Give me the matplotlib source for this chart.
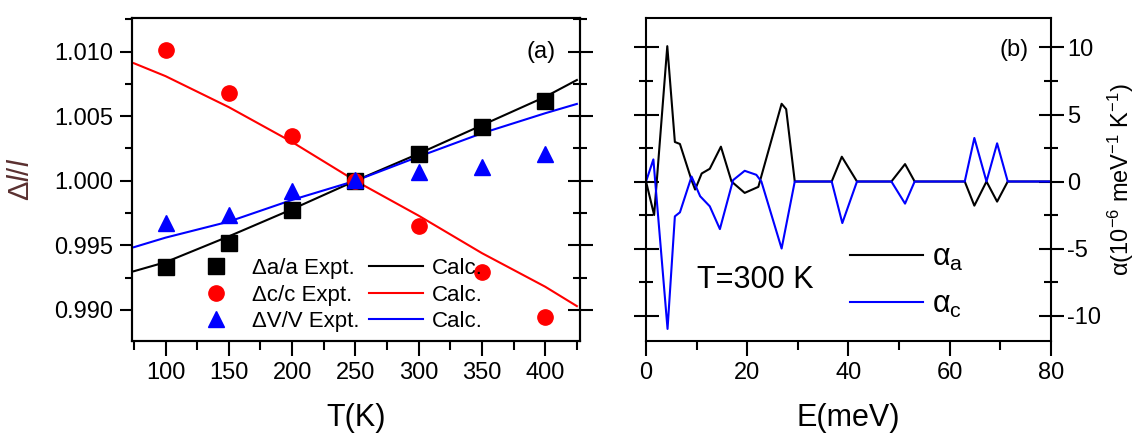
import numpy as np
import matplotlib
matplotlib.use('Agg')
import matplotlib.pyplot as plt
from matplotlib.ticker import MultipleLocator

plt.rcParams['font.family'] = ['Liberation Sans', 'DejaVu Sans']
plt.rcParams['mathtext.fontset'] = 'custom'
plt.rcParams['mathtext.rm'] = 'Liberation Sans'
plt.rcParams['mathtext.it'] = 'Liberation Sans:italic'

# (a) lattice parameter ratios vs temperature
T_expt = [100, 150, 200, 250, 300, 350, 400]
a_expt = [0.99335, 0.99521, 0.99774, 1.0000, 1.00208, 1.0042, 1.0062]
c_expt = [1.0101, 1.00683, 1.0035, 1.0000, 0.9965, 0.99297, 0.98948]
V_expt = [0.99676, 0.99736, 0.99924, 1.0001, 1.00066, 1.0011, 1.00208]

T_calc = [75, 100, 150, 200, 250, 300, 350, 400, 425]
a_calc = [0.9930, 0.9937, 0.9957, 0.9978, 1.0000, 1.0021, 1.0043, 1.0065, 1.0078]
c_calc = [1.0091, 1.0081, 1.0057, 1.0030, 1.0000, 0.9973, 0.9944, 0.9918, 0.9903]
V_calc = [0.99486, 0.9956, 0.99684, 0.99852, 1.0000, 1.00187, 1.00368, 1.00523, 1.00595]

# (b) mode contributions to thermal expansion at 300 K
E_a = [0, 1.6, 4.2, 5.7, 6.7, 9.0, 9.7, 11.0, 12.6, 14.8, 16.9, 19.5, 22.2, 26.8, 27.7,
       29.4, 36.7, 38.7, 41.7, 48.5, 51.2, 53.1, 63.0, 64.9, 67.3, 69.4, 71.5, 80]
alpha_a = [0, -2.5, 10.1, 2.95, 2.8, 0.1, -0.6, 0.6, 0.95, 2.6, 0.0, -0.85, -0.4, 5.8, 5.4,
           0, 0, 1.85, 0, 0, 1.3, 0, 0, -1.8, 0, -1.5, 0, 0]
E_c = [0, 1.45, 4.25, 5.7, 6.7, 9.0, 10.7, 12.6, 14.6, 17.2, 19.5, 21.8, 22.8, 26.8,
       29.4, 36.7, 38.8, 41.7, 48.5, 51.2, 53.1, 63.0, 64.9, 67.3, 69.4, 71.5, 80]
alpha_c = [0, 1.65, -11.0, -2.6, -2.3, 0.37, -1.1, -1.85, -3.55, 0.1, 0.8, 0.5, 0, -5.0,
           0, 0, -3.1, 0, 0, -1.65, 0, 0, 3.25, 0, 2.85, 0, 0]

fig = plt.figure(figsize=(11.4, 4.34), dpi=100)
ax1 = fig.add_axes([0.1158, 0.2143, 0.393, 0.7442])
ax2 = fig.add_axes([0.5667, 0.2143, 0.355, 0.7442])

ms = 11
ax1.plot(T_calc, a_calc, '-', color='k', lw=1.5)
ax1.plot(T_calc, c_calc, '-', color='#ff0000', lw=1.5)
ax1.plot(T_calc, V_calc, '-', color='#0000ff', lw=1.5)
h_a, = ax1.plot(T_expt, a_expt, 's', color='k', ms=ms, ls='none')
h_c, = ax1.plot(T_expt, c_expt, 'o', color='#ff0000', ms=ms, ls='none')
h_V, = ax1.plot(T_expt, V_expt, '^', color='#0000ff', ms=ms + 1, ls='none')
l_a, = ax1.plot([], [], '-', color='k', lw=1.5)
l_c, = ax1.plot([], [], '-', color='#ff0000', lw=1.5)
l_V, = ax1.plot([], [], '-', color='#0000ff', lw=1.5)

ax1.set_xlim(73.5, 427.5)
ax1.set_ylim(0.9876, 1.0126)
ax1.xaxis.set_major_locator(MultipleLocator(50))
ax1.xaxis.set_minor_locator(MultipleLocator(25))
ax1.yaxis.set_major_locator(MultipleLocator(0.005))
ax1.yaxis.set_minor_locator(MultipleLocator(0.0025))
ax1.yaxis.set_major_formatter(matplotlib.ticker.FormatStrFormatter('%.3f'))
ax1.tick_params(axis='x', which='major', direction='out', length=11, width=1.5, pad=4, labelsize=17)
ax1.tick_params(axis='x', which='minor', direction='out', length=6.5, width=1.5)
ax1.tick_params(axis='y', which='major', direction='out', length=8.5, width=1.5, pad=5, labelsize=17)
ax1.tick_params(axis='y', which='minor', direction='out', length=5, width=1.5)
ax1.set_xlabel('T(K)', fontsize=22, labelpad=14)
ax1.set_ylabel('Δ$\\it{l}$/$\\it{l}$', fontsize=21, color='#5a3030', labelpad=14)
ax1.text(0.945, 0.894, '(a)', transform=ax1.transAxes, ha='right', va='center', fontsize=17)

# right-hand ticks of panel (a), no labels
ax1r = ax1.twinx()
ax1r.set_ylim(ax1.get_ylim())
ax1r.yaxis.set_major_locator(MultipleLocator(0.005))
ax1r.yaxis.set_minor_locator(MultipleLocator(0.0025))
ax1r.tick_params(axis='y', which='major', direction='inout', length=18, width=1.5, labelright=False)
ax1r.tick_params(axis='y', which='minor', direction='inout', length=10, width=1.5)

ax1.legend([h_a, h_c, h_V, l_a, l_c, l_V],
           ['Δa/a Expt.', 'Δc/c Expt.', 'ΔV/V Expt.', 'Calc.', 'Calc.', 'Calc.'],
           ncol=2, loc='center', bbox_to_anchor=(0.455, 0.142), frameon=False,
           fontsize=16, handlelength=2.4, handletextpad=0.4, columnspacing=0.45,
           labelspacing=0.25, borderpad=0, numpoints=1)

ax2.plot(E_a, alpha_a, '-', color='k', lw=1.5, label='α$_\\mathregular{a}$')
ax2.plot(E_c, alpha_c, '-', color='#0000ff', lw=1.5, label='α$_\\mathregular{c}$')
ax2.set_xlim(0, 80)
ax2.set_ylim(-11.9, 12.2)
ax2.xaxis.set_major_locator(MultipleLocator(20))
ax2.xaxis.set_minor_locator(MultipleLocator(10))
ax2.yaxis.set_major_locator(MultipleLocator(5))
ax2.yaxis.set_minor_locator(MultipleLocator(2.5))
ax2.yaxis.set_major_formatter(matplotlib.ticker.FuncFormatter(lambda v, p: '%d' % v))
ax2.tick_params(axis='x', which='major', direction='out', length=11, width=1.5, pad=4, labelsize=17)
ax2.tick_params(axis='x', which='minor', direction='out', length=6.5, width=1.5)
ax2.tick_params(axis='y', which='major', direction='inout', length=18, width=1.5,
                left=True, right=True, labelleft=False, labelright=True, pad=3, labelsize=17)
ax2.tick_params(axis='y', which='minor', direction='inout', length=10, width=1.5,
                left=True, right=True)
ax2.set_xlabel('E(meV)', fontsize=22, labelpad=14)
ax2.yaxis.set_label_position('right')
ax2.set_ylabel('α(10$^{-6}$ meV$^{-1}$ K$^{-1}$)', fontsize=17, labelpad=3)
ax2.text(0.945, 0.9, '(b)', transform=ax2.transAxes, ha='right', va='center', fontsize=17)
ax2.text(0.125, 0.19, 'T=300 K', transform=ax2.transAxes, ha='left', va='center', fontsize=22)
ax2.legend(loc='center', bbox_to_anchor=(0.645, 0.185), frameon=False, fontsize=22,
           handlelength=2.4, handletextpad=0.3, labelspacing=0.55, borderpad=0)

for a in (ax1, ax1r, ax2):
    for s in a.spines.values():
        s.set_linewidth(1.5)

plt.savefig('out.png', dpi=100)
